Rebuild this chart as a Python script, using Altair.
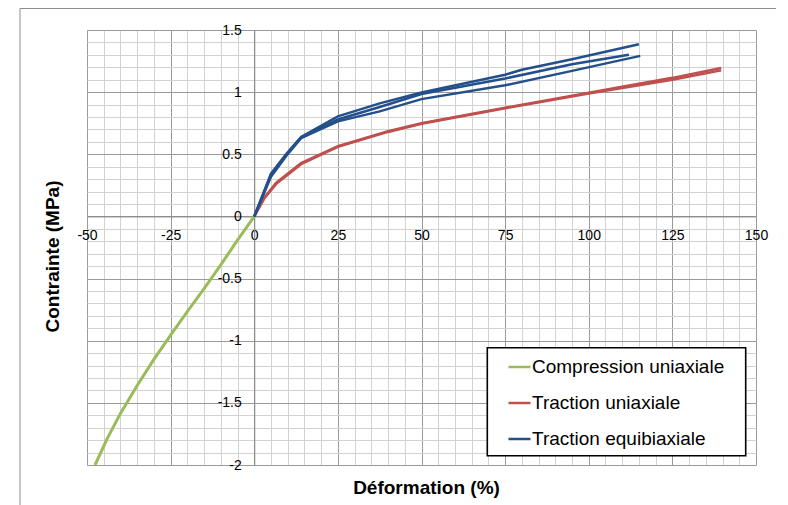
import altair as alt
import pandas as pd

# ---- data ----
series = ["Compression uniaxiale", "Traction uniaxiale", "Traction equibiaxiale"]
colors = ["#9BBB59", "#C0504D", "#23508A"]

# Compression uniaxiale
comp_x = [0, -5, -10, -15, -20, -25, -30, -35, -40, -44, -47.6]
comp_y = [0, -0.19, -0.39, -0.58, -0.765, -0.955, -1.15, -1.36, -1.585, -1.79, -2.0]

# Traction uniaxiale (two tests)
tu_x = [0, 3, 6.5, 14, 25, 40, 50, 75, 100, 125, 139.6]
tu1_y = [0, 0.15, 0.27, 0.43, 0.565, 0.685, 0.75, 0.875, 0.995, 1.115, 1.195]
tu2_y = [0, 0.145, 0.26, 0.42, 0.56, 0.68, 0.745, 0.87, 0.988, 1.10, 1.175]

# Traction equibiaxiale (three tests)
te1_x = [0, 5, 9.5, 14, 25, 37.5, 50, 75, 80, 95, 115]
te1_y = [0, 0.345, 0.5, 0.64, 0.805, 0.91, 0.997, 1.14, 1.18, 1.265, 1.386]
te2_x = [0, 5, 9.5, 14, 25, 37.5, 50, 75, 95, 112]
te2_y = [0, 0.335, 0.495, 0.635, 0.78, 0.88, 0.985, 1.11, 1.225, 1.30]
te3_x = [0, 5, 9.5, 14, 25, 37.5, 50, 75, 95, 115.4]
te3_y = [0, 0.32, 0.485, 0.63, 0.765, 0.845, 0.944, 1.055, 1.171, 1.292]

x_major = [-50, -25, 0, 25, 50, 75, 100, 125, 150]
y_major = [-2, -1.5, -1, -0.5, 0, 0.5, 1, 1.5]
x_minor = [-50 + 5 * i for i in range(41)]
y_minor = [round(-2 + 0.1 * i, 1) for i in range(36)]

curves = [
    (series[0], "c1", comp_x, comp_y),
    (series[1], "t1", tu_x, tu1_y),
    (series[1], "t2", tu_x, tu2_y),
    (series[2], "e1", te1_x, te1_y),
    (series[2], "e2", te2_x, te2_y),
    (series[2], "e3", te3_x, te3_y),
]
rows = []
for s, c, xs, ys in curves:
    for xv, yv in zip(xs, ys):
        rows.append({"series": s, "curve": c, "x": xv, "y": yv})
df = pd.DataFrame(rows)
df_green = df[df["series"] == series[0]]
df_other = df[df["series"] != series[0]]

W, H = 669, 435
FONT = "Liberation Sans"
xscale = alt.Scale(domain=[-50, 150], nice=False, zero=False)
yscale = alt.Scale(domain=[-2, 1.5], nice=False, zero=False)
x0_px = H * 1.5 / 3.5          # y = 0 position from top
x0_off = -(H - x0_px)          # bottom axis moved up to y = 0
y0_off = -(W * 50 / 200)       # left axis moved right to x = 0

color_enc = alt.Color(
    "series:N", scale=alt.Scale(domain=series, range=colors),
    legend=alt.Legend(
        title=None, orient="none", legendX=420, legendY=324.5,
        symbolType="stroke", symbolSize=484, symbolStrokeWidth=2.5,
        labelFont=FONT, labelFontSize=19, labelColor="black",
        labelOffset=0, rowPadding=13, padding=0, zindex=1, labelLimit=400))

minor = alt.Chart(df).mark_point(opacity=0).encode(
    x=alt.X("x:Q", scale=xscale, axis=alt.Axis(
        orient="bottom", values=x_minor, grid=True, gridColor="#d2d2d2", gridWidth=1,
        labels=False, ticks=False, domain=False, title=None)),
    y=alt.Y("y:Q", scale=yscale, axis=alt.Axis(
        orient="left", values=y_minor, grid=True, gridColor="#d2d2d2", gridWidth=1,
        labels=False, ticks=False, domain=False, title=None)),
)

green = alt.Chart(df_green).mark_line(strokeWidth=3).encode(
    x=alt.X("x:Q", scale=xscale, axis=None),
    y=alt.Y("y:Q", scale=yscale, axis=None),
    color=color_enc,
    detail="curve:N",
    order="x:Q",
)

lines = alt.Chart(df_other).mark_line(strokeWidth=2.5).encode(
    x=alt.X("x:Q", scale=xscale, axis=alt.Axis(
        orient="bottom", values=x_major, grid=True, gridColor="#9a9a9a", gridWidth=1,
        offset=x0_off, ticks=False, domain=True, domainColor="#868686", domainWidth=1,
        labelExpr="toString(datum.value)", labelFont=FONT, labelFontSize=14,
        labelColor="black", labelPadding=12, labelFlush=False, labelOverlap=False,
        labelBound=False,
        title="Déformation (%)", titleFont=FONT, titleFontSize=19, titleFontWeight="bold",
        titleColor="black", titleBaseline="alphabetic", titleX=339,
        titleY=463 - x0_px)),
    y=alt.Y("y:Q", scale=yscale, axis=alt.Axis(
        orient="left", values=y_major, grid=True, gridColor="#9a9a9a", gridWidth=1,
        offset=y0_off, ticks=False, domain=True, domainColor="#868686", domainWidth=1,
        labelExpr="toString(datum.value)", labelFont=FONT, labelFontSize=14,
        labelColor="black", labelPadding=13, labelFlush=False, labelOverlap=False,
        labelBound=False,
        title="Contrainte (MPa)", titleFont=FONT, titleFontSize=19, titleFontWeight="bold",
        titleColor="black", titleBaseline="alphabetic", titleAngle=270,
        titleX=-29 + y0_off, titleY=226)),
    color=color_enc,
    detail="curve:N",
    order="x:Q",
)

one = pd.DataFrame({"k": [0]})
legend_box = alt.Chart(one).mark_rect(fill="white", stroke="black", strokeWidth=1.6).encode(
    x=alt.value(400.3), x2=alt.value(658.7), y=alt.value(317.7), y2=alt.value(425.7))
border_left = alt.Chart(one).mark_rule(color="#8c8c8c", strokeWidth=1).encode(
    x=alt.value(-67), y=alt.value(-21.5), y2=alt.value(H + 40))
border_top = alt.Chart(one).mark_rule(color="#8c8c8c", strokeWidth=1).encode(
    x=alt.value(-67), x2=alt.value(W + 20), y=alt.value(-21.5))

chart = alt.layer(minor, green, lines, legend_box, border_left, border_top).resolve_axis(
    x="independent", y="independent"
).properties(
    width=W, height=H,
    padding={"left": 79, "top": 22, "right": 20, "bottom": 40},
    autosize=alt.AutoSizeParams(type="none"),
).configure_view(stroke=None).configure(background="white")

chart.save("out.html", embed_options={"renderer": "svg", "actions": False})
